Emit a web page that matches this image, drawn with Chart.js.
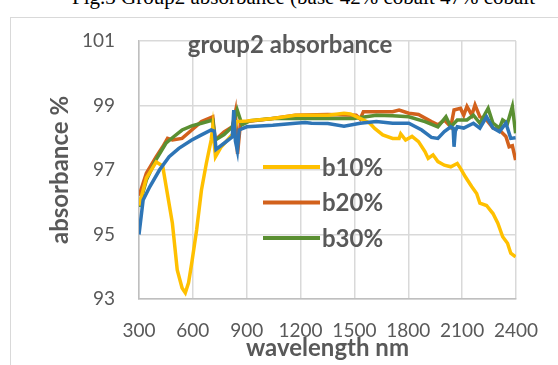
<!DOCTYPE html>
<html>
<head>
<meta charset="utf-8">
<script src="https://cdn.jsdelivr.net/npm/chart.js@4.4.0/dist/chart.umd.min.js"></script>
<style>
  html, body { margin: 0; padding: 0; background: #fff; overflow: hidden; }
  body { width: 558px; height: 365px; position: relative; }
  #cap { position: absolute; left: 72px; top: -15px; font-family: "Liberation Serif", serif; font-size: 21px; color: #000; white-space: nowrap; }
  #frame { position: absolute; left: 10px; top: 17px; width: 600px; height: 400px; border: 1px solid #d9d9d9; box-sizing: border-box; }
  #wrap { position: absolute; left: 0; top: 0; width: 558px; height: 365px; }
</style>
</head>
<body>
<div id="cap">Fig.3 Group2 absorbance (base 42% cobalt 47% cobalt</div>
<div id="frame"></div>
<div id="wrap"><canvas id="c" width="558" height="365"></canvas></div>
<script>
// ---- data ----
const xTicks = [300, 600, 900, 1200, 1500, 1800, 2100, 2400];
const yTicks = [93, 95, 97, 99, 101];

const wlBase = [300, 323, 360, 414, 468, 522, 594, 648, 702, 720, 729, 774, 820, 828, 837, 848, 858, 900, 1045, 1171, 1225, 1261, 1352, 1442, 1532, 1622, 1713, 1803, 1875, 1929, 1965, 2001, 2037, 2050, 2055, 2062, 2073, 2109, 2163, 2199, 2236, 2272, 2308, 2344, 2371, 2398];
const valBase = [95.0, 96.07, 96.48, 97.0, 97.41, 97.67, 97.93, 98.09, 98.24, 98.2, 97.64, 97.83, 98.03, 98.86, 97.9, 97.6, 98.24, 98.34, 98.39, 98.45, 98.47, 98.45, 98.44, 98.36, 98.45, 98.5, 98.45, 98.45, 98.24, 98.01, 97.98, 98.19, 98.34, 98.3, 97.72, 98.2, 98.34, 98.3, 98.45, 98.3, 98.65, 98.3, 98.19, 98.45, 97.98, 98.0];

const wlB10 = [300, 341, 396, 432, 486, 513, 540, 558, 576, 594, 621, 648, 675, 702, 711, 726, 756, 820, 847, 900, 1045, 1171, 1352, 1442, 1478, 1532, 1586, 1613, 1658, 1713, 1749, 1758, 1785, 1821, 1857, 1893, 1911, 1938, 1965, 2001, 2037, 2073, 2091, 2118, 2154, 2181, 2199, 2236, 2272, 2299, 2326, 2353, 2371, 2398];
const valB10 = [95.9, 96.75, 97.25, 97.12, 95.35, 93.9, 93.34, 93.19, 93.5, 94.12, 95.14, 96.38, 97.2, 97.93, 98.34, 97.41, 97.7, 98.1, 98.5, 98.52, 98.6, 98.7, 98.7, 98.76, 98.74, 98.6, 98.45, 98.29, 98.09, 97.98, 97.98, 98.12, 97.93, 98.04, 97.88, 97.57, 97.36, 97.47, 97.26, 97.15, 97.1, 97.2, 97.05, 96.79, 96.48, 96.27, 95.97, 95.9, 95.65, 95.35, 94.93, 94.73, 94.42, 94.31];

const wlB20 = [300, 341, 396, 432, 459, 486, 540, 594, 648, 711, 724, 774, 820, 837, 849, 865, 900, 1045, 1171, 1352, 1510, 1532, 1550, 1622, 1713, 1749, 1803, 1857, 1929, 1965, 2001, 2037, 2055, 2091, 2109, 2127, 2154, 2172, 2199, 2236, 2272, 2308, 2344, 2362, 2380, 2398];
const valB20 = [96.2, 96.9, 97.41, 97.72, 97.98, 97.93, 97.98, 98.24, 98.5, 98.65, 97.93, 98.18, 98.34, 98.8, 97.5, 98.45, 98.5, 98.6, 98.7, 98.72, 98.7, 98.58, 98.81, 98.81, 98.81, 98.86, 98.76, 98.72, 98.5, 98.4, 98.55, 98.34, 98.86, 98.91, 98.7, 98.97, 98.7, 99.02, 98.65, 98.55, 98.3, 98.24, 98.04, 97.72, 97.75, 97.31];

const wlB30 = [300, 341, 396, 450, 486, 540, 594, 648, 711, 724, 774, 820, 847, 874, 919, 1045, 1171, 1352, 1496, 1622, 1713, 1803, 1893, 1965, 2010, 2037, 2073, 2127, 2163, 2199, 2245, 2272, 2308, 2326, 2353, 2380, 2398];
const valB30 = [95.86, 96.69, 97.33, 97.83, 98.0, 98.24, 98.37, 98.45, 98.55, 97.93, 98.1, 98.34, 98.86, 98.4, 98.53, 98.6, 98.6, 98.6, 98.6, 98.7, 98.68, 98.65, 98.5, 98.34, 98.65, 98.34, 98.55, 98.55, 98.7, 98.45, 98.91, 98.45, 98.3, 98.55, 98.45, 98.97, 98.14];

const seriesNames = ['base', 'b10%', 'b20%', 'b30%'];
const showInLegend = [false, true, true, true];
const chartTitle = 'group2 absorbance';
const xTitle = 'wavelength nm';
const yTitle = 'absorbance %';

// ---- build ----
const pts = (xs, ys) => xs.map((x, i) => ({ x: x, y: ys[i] }));
const colors = ['#2E75B6', '#FFC000', '#D2611C', '#5A8F32'];
const orders = [0, 1, 3, 2];
const dataSets = [pts(wlBase, valBase), pts(wlB10, valB10), pts(wlB20, valB20), pts(wlB30, valB30)];

const TXT = '#595959';
const FONT = 'Lato, "Open Sans", sans-serif';

const overlay = {
  id: 'overlay',
  afterDraw(chart) {
    const ctx = chart.ctx;
    ctx.save();
    ctx.fillStyle = TXT;
    ctx.font = 'bold 24px ' + FONT;
    ctx.textAlign = 'center';
    ctx.textBaseline = 'middle';
    ctx.fillText(chartTitle, 290, 45);
    // legend inside plot
    let row = 0;
    chart.data.datasets.forEach((ds, i) => {
      if (!showInLegend[i]) return;
      const y = 167 + row * 35.5;
      ctx.strokeStyle = ds.borderColor;
      ctx.lineWidth = 4;
      ctx.beginPath();
      ctx.moveTo(263, y);
      ctx.lineTo(320, y);
      ctx.stroke();
      ctx.font = 'bold 24px ' + FONT;
      ctx.textAlign = 'left';
      ctx.fillStyle = TXT;
      ctx.fillText(ds.label, 322, y + 1);
      row++;
    });
    ctx.restore();
  }
};

new Chart(document.getElementById('c'), {
  type: 'line',
  data: {
    datasets: dataSets.map((d, i) => ({
      label: seriesNames[i],
      data: d,
      borderColor: colors[i],
      backgroundColor: colors[i],
      borderWidth: 3.5,
      pointRadius: 0,
      tension: 0,
      fill: false,
      order: orders[i]
    }))
  },
  options: {
    responsive: false,
    animation: false,
    events: [],
    layout: { padding: { left: 45, top: 41, right: 31, bottom: 0 } },
    plugins: { legend: { display: false }, title: { display: false }, tooltip: { enabled: false } },
    scales: {
      x: {
        type: 'linear',
        min: 300, max: 2400,
        afterBuildTicks: (s) => { s.ticks = xTicks.map(v => ({ value: v })); },
        afterFit: (s) => { s.height = 66; },
        grid: { color: '#d9d9d9', lineWidth: 1.5, drawTicks: false },
        border: { color: '#bfbfbf', width: 1.5 },
        ticks: { color: TXT, font: { family: FONT, size: 19 }, padding: 20, maxRotation: 0, autoSkip: false, callback: (v) => String(v) },
        title: { display: true, text: xTitle, color: TXT, font: { family: FONT, size: 24, weight: 'bold' }, padding: { top: 0, bottom: 2 } }
      },
      y: {
        min: 93, max: 101,
        afterBuildTicks: (s) => { s.ticks = yTicks.map(v => ({ value: v })); },
        afterFit: (s) => { s.width = 94; },
        grid: { color: '#d9d9d9', lineWidth: 1.5, drawTicks: false },
        border: { color: '#bfbfbf', width: 1.5 },
        ticks: { color: TXT, font: { family: FONT, size: 19 }, padding: 24, callback: (v) => String(v) },
        title: { display: true, text: yTitle, color: TXT, font: { family: FONT, size: 24, weight: 'bold' }, padding: { top: 1, bottom: 0 } }
      }
    }
  },
  plugins: [overlay]
});
</script>
</body>
</html>
